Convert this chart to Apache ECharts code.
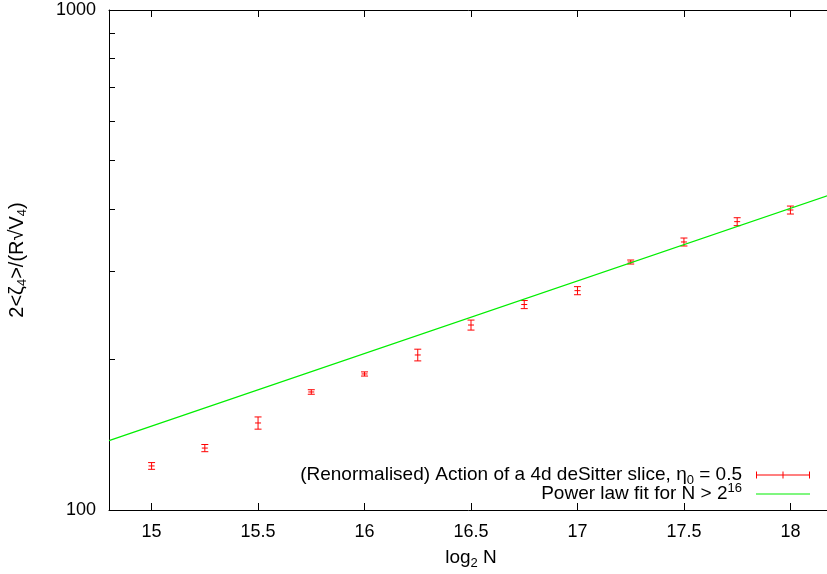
<!DOCTYPE html>
<html>
<head>
<meta charset="utf-8">
<script src="https://cdn.jsdelivr.net/npm/echarts@6/dist/echarts.min.js"></script>
<style>
  html, body { margin: 0; padding: 0; background: #fff; }
  #chart { width: 827px; height: 574px; }
</style>
</head>
<body>
<div id="chart"></div>
<script>
// log2 N values and measured action with errors
const log2N = [15, 15.25, 15.5, 15.75, 16, 16.25, 16.5, 16.75, 17, 17.25, 17.5, 17.75, 18];
const action = [122.5, 133.0, 149.3, 172.2, 187.1, 204.2, 234.4, 257.6, 274.6, 313.3, 343.6, 377.3, 398.1];
const actionErr = [1.9, 2.2, 4.2, 1.8, 1.8, 5.5, 5.4, 4.8, 5.1, 2.9, 6.3, 6.9, 7.3];

// power law fit, end points of the straight line on the log axis
const fitX = [14.8, 18.2];
const fitY = [137.6, 429.0];

const xTicks = [15, 15.5, 16, 16.5, 17, 17.5, 18];
const yTicks = [100, 200, 300, 400, 500, 600, 700, 800, 900, 1000];
const yLabels = [100, 1000];

const NAME_ACTION = "(Renormalised) Action of a 4d deSitter slice, eta0 = 0.5";
const NAME_FIT = "Power law fit for N > 2^16";
const legendText = {
  [NAME_ACTION]: "(Renormalised) Action of a 4d deSitter slice, η{sub|0} = 0.5",
  [NAME_FIT]: "Power law fit for N > 2{sup|16}",
};

const FONT = "Liberation Sans";
const RED = "#ff0000";
const GREEN = "#00ee00";

const rich = {
  sub: { fontFamily: FONT, fontSize: 13, verticalAlign: "bottom", lineHeight: 24 },
  sup: { fontFamily: FONT, fontSize: 13, verticalAlign: "top", lineHeight: 15 },
};

const ebData = log2N.map((x, i) => [x, action[i], action[i] - actionErr[i], action[i] + actionErr[i]]);

const chart = echarts.init(document.getElementById("chart"), null, { renderer: "canvas" });

const legendBase = {
  right: 17,
  align: "right",
  orient: "vertical",
  itemWidth: 54,
  itemHeight: 7,
  padding: 0,
  selectedMode: false,
  formatter: (n) => legendText[n],
  textStyle: { fontFamily: FONT, fontSize: 19, color: "#000", lineHeight: 24, padding: [0, 9, 0, 0], rich },
};

chart.setOption({
  animation: false,
  backgroundColor: "#fff",
  grid: { left: 109, right: -6, top: 10, bottom: 64, containLabel: false, outerBoundsMode: "none" },
  legend: [
    Object.assign({}, legendBase, {
      top: 463,
      data: [{ name: NAME_ACTION, icon: "path://M0 0H1V7H0Z M0 3H54V4H0Z M53 0H54V7H53Z M26.5 0H27.5V7H26.5Z", itemStyle: { color: RED } }],
    }),
    Object.assign({}, legendBase, {
      top: 482,
      data: [{ name: NAME_FIT, icon: "path://M0 3H54V4H0Z", itemStyle: { color: GREEN } }],
    }),
  ],
  xAxis: [
    {
      type: "value",
      min: 14.8,
      max: 18.2,
      position: "bottom",
      name: "log{sub|2} N",
      nameLocation: "middle",
      nameGap: 34,
      nameTextStyle: { fontFamily: FONT, fontSize: 19, color: "#000", lineHeight: 24, rich },
      axisLine: { show: true, onZero: false, lineStyle: { color: "#000", width: 1 } },
      axisTick: { show: true, inside: true, length: 7, customValues: xTicks, lineStyle: { color: "#000" } },
      axisLabel: { customValues: xTicks, fontFamily: FONT, fontSize: 18, color: "#000", margin: 13, formatter: (v) => String(v) },
      splitLine: { show: false },
    },
    {
      type: "value",
      min: 14.8,
      max: 18.2,
      position: "top",
      axisLine: { show: true, onZero: false, lineStyle: { color: "#000", width: 1 } },
      axisTick: { show: true, inside: true, length: 7, customValues: xTicks, lineStyle: { color: "#000" } },
      axisLabel: { show: false },
      splitLine: { show: false },
    },
  ],
  yAxis: {
    type: "log",
    logBase: 10,
    min: 100,
    max: 1000,
    name: "2<ζ{sub|4}>/(R√V{sub|4})",
    nameLocation: "middle",
    nameRotate: 90,
    nameGap: 80,
    nameTextStyle: { fontFamily: FONT, fontSize: 20, color: "#000", lineHeight: 24, rich },
    axisLine: { show: true, onZero: false, lineStyle: { color: "#000", width: 1 } },
    axisTick: { show: true, inside: true, length: 6, customValues: yTicks, lineStyle: { color: "#000" } },
    axisLabel: { customValues: yLabels, fontFamily: FONT, fontSize: 18, color: "#000", margin: 13, formatter: (v) => String(v) },
    splitLine: { show: false },
  },
  series: [
    {
      name: NAME_ACTION,
      type: "custom",
      xAxisIndex: 0,
      yAxisIndex: 0,
      itemStyle: { color: RED },
      data: ebData,
      renderItem: (params, api) => {
        const x = api.value(0);
        const p = api.coord([x, api.value(1)]);
        const lo = api.coord([x, api.value(2)]);
        const hi = api.coord([x, api.value(3)]);
        const s = { stroke: RED, lineWidth: 1 };
        const cap = 3.5;
        return {
          type: "group",
          children: [
            { type: "line", shape: { x1: lo[0], y1: lo[1], x2: hi[0], y2: hi[1] }, style: s },
            { type: "line", shape: { x1: lo[0] - cap, y1: lo[1], x2: lo[0] + cap, y2: lo[1] }, style: s },
            { type: "line", shape: { x1: hi[0] - cap, y1: hi[1], x2: hi[0] + cap, y2: hi[1] }, style: s },
            { type: "line", shape: { x1: p[0] - 3, y1: p[1], x2: p[0] + 3, y2: p[1] }, style: s },
          ],
        };
      },
    },
    {
      name: NAME_FIT,
      type: "line",
      xAxisIndex: 0,
      yAxisIndex: 0,
      showSymbol: false,
      symbol: "none",
      lineStyle: { color: GREEN, width: 1.2 },
      itemStyle: { color: GREEN },
      data: fitX.map((x, i) => [x, fitY[i]]),
    },
  ],
});
</script>
</body>
</html>
